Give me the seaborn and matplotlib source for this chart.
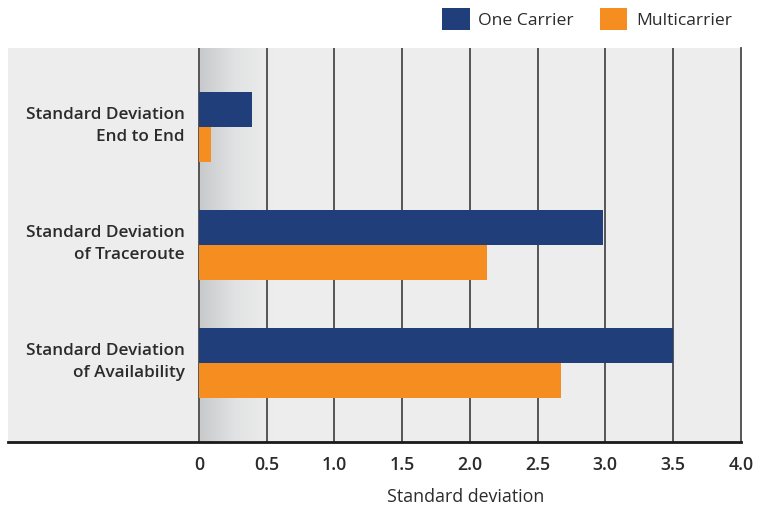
import numpy as np
import pandas as pd
import matplotlib
matplotlib.use("Agg")
import matplotlib.pyplot as plt
import matplotlib.transforms as mtransforms
from matplotlib.patches import Patch
import seaborn as sns

categories = [
    "Standard Deviation\nEnd to End",
    "Standard Deviation\nof Traceroute",
    "Standard Deviation\nof Availability",
]
series_names = ["One Carrier", "Multicarrier"]
one_carrier = [0.39, 2.98, 3.50]
multicarrier = [0.09, 2.13, 2.67]
x_ticks = [0, 0.5, 1.0, 1.5, 2.0, 2.5, 3.0, 3.5, 4.0]
x_tick_labels = ["0", "0.5", "1.0", "1.5", "2.0", "2.5", "3.0", "3.5", "4.0"]

colors = {"One Carrier": "#1f3e7a", "Multicarrier": "#f58d20"}
text_color = "#2b2b2b"

df = pd.DataFrame({
    "category": categories * 2,
    "series": [series_names[0]] * 3 + [series_names[1]] * 3,
    "value": one_carrier + multicarrier,
})

sns.set_style("white")
plt.rcParams["font.family"] = ["Open Sans", "DejaVu Sans"]

fig = plt.figure(figsize=(7.66, 5.08), dpi=100)
ax = fig.add_axes([8 / 766, 1 - 442 / 508, (740.7 - 8) / 766, (442 - 48) / 508])
ax.set_facecolor("#ededed")

sns.barplot(
    data=df, y="category", x="value", hue="series", orient="h",
    palette=colors, width=0.6, saturation=1, legend=False, ax=ax, zorder=3,
    linewidth=0, edgecolor="none",
)

# soft shading right of the zero line
grad = np.linspace(0, 1, 256).reshape(1, -1)
cmap = matplotlib.colors.LinearSegmentedColormap.from_list(
    "shade", ["#c8c9cb", "#e2e3e4", "#ededed"])
ax.imshow(grad, extent=(0, 0.55, 2.67, -0.67), aspect="auto", cmap=cmap,
          zorder=0.5, interpolation="bilinear")
ax.set_xlim(-1.41, 4.0)
ax.set_ylim(2.67, -0.67)

for t in x_ticks[:-1]:
    ax.axvline(t, color="#4a4a4a", lw=1.3, zorder=1)

ax.set_xticks(x_ticks)
ax.set_xticklabels(x_tick_labels)
ax.tick_params(axis="x", length=0, pad=10, labelsize=12.8, labelcolor=text_color)
for lbl in ax.get_xticklabels():
    lbl.set_fontweight("semibold")

ax.tick_params(axis="y", length=0, pad=-127, labelsize=12.3, labelcolor=text_color)
lift = mtransforms.ScaledTranslation(0, 4 / 72, fig.dpi_scale_trans)
for lbl in ax.get_yticklabels():
    lbl.set_fontweight("semibold")
    lbl.set_linespacing(1.45)
    lbl.set_transform(lbl.get_transform() + lift)

ax.set_ylabel("")
ax.set_xlabel("Standard deviation", fontsize=12.8, color=text_color)
ax.xaxis.set_label_coords(0.625, -0.118)

for side in ["top", "left"]:
    ax.spines[side].set_visible(False)
ax.spines["bottom"].set_color("#1a1a1a")
ax.spines["bottom"].set_linewidth(2.0)
ax.spines["right"].set_color("#4a4a4a")
ax.spines["right"].set_linewidth(1.3)

handles = [Patch(facecolor=colors[s], edgecolor="none", label=s) for s in series_names]
leg = fig.legend(
    handles=handles, loc="center right", bbox_to_anchor=(732 / 766, 1 - 19 / 508),
    ncol=2, frameon=False, fontsize=12.6, handlelength=1.55, handleheight=1.55,
    handletextpad=0.5, columnspacing=1.5, borderaxespad=0, borderpad=0,
)
for t in leg.get_texts():
    t.set_color(text_color)

fig.savefig("out.png", dpi=100)
